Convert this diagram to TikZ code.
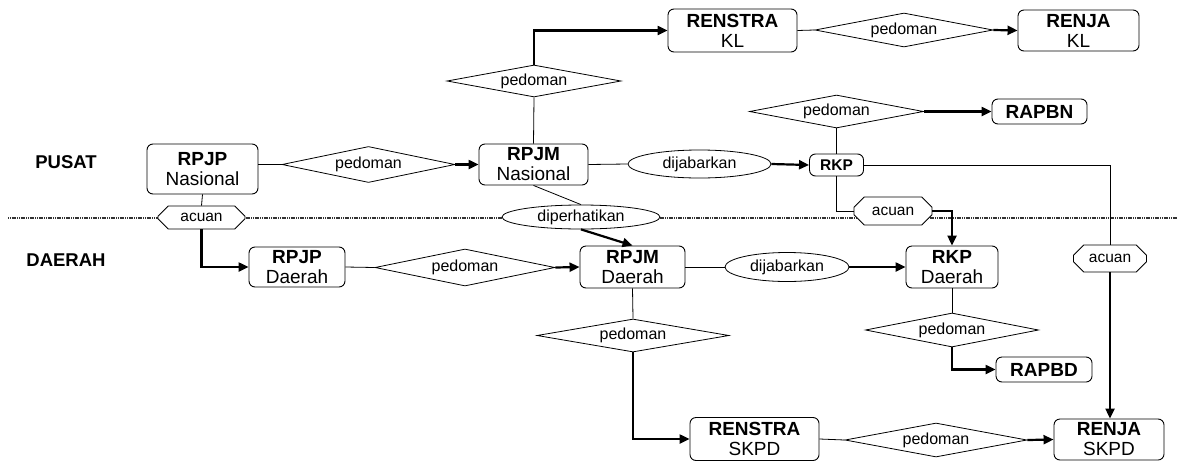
\documentclass[tikz,border=0pt]{standalone}
\usepackage{fontspec}
\setmainfont{Liberation Sans}
\usetikzlibrary{shapes.geometric,shapes.misc,arrows.meta}
\begin{document}
\begin{tikzpicture}[x=1pt,y=-1pt,
 box/.style={draw,rounded corners=6pt,line width=0.9pt,align=center,inner sep=0pt,font=\fontsize{19}{20}\selectfont,fill=white},
 dia/.style={draw,diamond,shape aspect=4,inner sep=0pt,line width=0.8pt,font=\fontsize{16}{18}\selectfont,fill=white},
 ell/.style={draw,ellipse,inner sep=0pt,line width=0.8pt,font=\fontsize{16}{18}\selectfont,fill=white},
 oct/.style={draw,chamfered rectangle,chamfered rectangle xsep=8pt,chamfered rectangle ysep=6pt,inner sep=0pt,line width=0.8pt,font=\fontsize{15.5}{17}\selectfont,fill=white},
 thinln/.style={line width=0.8pt},
 thickarr/.style={line width=2.2pt,-{Triangle[length=10pt,width=9pt]}},
 region/.style={font=\bfseries\fontsize{18.5}{20}\selectfont},
 divider/.style={line width=1.8pt,dash pattern=on 1.2pt off 0.6pt,black!80}
]
\useasboundingbox (0,0) rectangle (1177,461);

% divider
\coordinate (divL) at (8,218);
\coordinate (divR) at (1177,218);
\draw[divider] (divL) -- (divR);

% region labels
\node[region] (pusat) at (66,162) {PUSAT};
\node[region] (daerah) at (66,260) {DAERAH};

% boxes
\node[box,minimum width=111pt,minimum height=50pt] (rpjpn) at (202.5,169) {\textbf{RPJP}\\Nasional};
\node[box,minimum width=109pt,minimum height=41pt] (rpjmn) at (533.5,164.5) {\textbf{RPJM}\\Nasional};
\node[box,minimum width=129pt,minimum height=43pt] (renstrakl) at (732.5,30.5) {\textbf{RENSTRA}\\KL};
\node[box,minimum width=121pt,minimum height=41pt] (renjakl) at (1078.5,30.5) {\textbf{RENJA}\\KL};
\node[box,minimum width=54pt,minimum height=22pt,font=\bfseries\fontsize{15.5}{17}\selectfont] (rkp) at (836.5,165) {RKP};
\node[box,minimum width=95pt,minimum height=25pt,font=\bfseries\fontsize{19}{20}\selectfont] (rapbn) at (1039.5,111.5) {RAPBN};
\node[box,minimum width=96pt,minimum height=40pt] (rpjpd) at (297,267) {\textbf{RPJP}\\Daerah};
\node[box,minimum width=105pt,minimum height=42pt] (rpjmd) at (632.5,267) {\textbf{RPJM}\\Daerah};
\node[box,minimum width=92pt,minimum height=42pt] (rkpd) at (952,267) {\textbf{RKP}\\Daerah};
\node[box,minimum width=96pt,minimum height=25pt,font=\bfseries\fontsize{19}{20}\selectfont] (rapbd) at (1044,369.5) {RAPBD};
\node[box,minimum width=129pt,minimum height=43pt] (renstraskpd) at (754.5,439) {\textbf{RENSTRA}\\SKPD};
\node[box,minimum width=110pt,minimum height=41pt] (renjaskpd) at (1109,439.5) {\textbf{RENJA}\\SKPD};

% diamonds
\node[dia,minimum width=173pt,minimum height=36pt] (d1) at (368.5,164.5) {pedoman};
\node[dia,minimum width=174pt,minimum height=32pt] (d2) at (534,81) {pedoman};
\node[dia,minimum width=178pt,minimum height=34pt] (d3) at (904,30) {pedoman};
\node[dia,minimum width=174pt,minimum height=33pt] (d4) at (836.5,111.5) {pedoman};
\node[dia,minimum width=180pt,minimum height=37pt] (d5) at (465,267.5) {pedoman};
\node[dia,minimum width=192pt,minimum height=33pt] (d6) at (633,335.5) {pedoman};
\node[dia,minimum width=173pt,minimum height=34pt] (d7) at (952,330) {pedoman};
\node[dia,minimum width=182pt,minimum height=34pt] (d8) at (936,440) {pedoman};

% ellipses
\node[ell,minimum width=143pt,minimum height=28pt] (dij1) at (699.5,164) {dijabarkan};
\node[ell,minimum width=124pt,minimum height=29pt] (dij2) at (787,267) {dijabarkan};
\node[ell,minimum width=158pt,minimum height=24pt] (dip) at (581,217) {diperhatikan};

% octagons
\node[oct,minimum width=87pt,minimum height=23pt] (acuan1) at (201.5,217.5) {acuan};
\node[oct,minimum width=78pt,minimum height=28pt] (acuan2) at (893,211) {acuan};
\node[oct,minimum width=73pt,minimum height=27pt] (acuan3) at (1110,258.5) {acuan};

% connectors
\draw[thinln] (rpjpn.east |- d1.west) -- (d1.west);
\draw[thickarr] (d1.east) -- (rpjmn.west);
\draw[thinln] (rpjpn.south) -- (acuan1.north);
\draw[thickarr] (acuan1.south) |- (rpjpd.west);
\draw[thinln] (rpjmn.north) -- (d2.south);
\draw[thickarr] (d2.north) |- (renstrakl.west);
\draw[thinln] (renstrakl.east) -- (d3.west);
\draw[thickarr] (d3.east) -- (renjakl.west);
\draw[thinln] (rpjmn.east) -- (dij1.west);
\draw[thickarr] (dij1.east) -- (rkp.west);
\draw[thinln] (rkp.north) -- (d4.south);
\draw[thickarr] (d4.east) -- (rapbn.west);
\draw[thinln] (rkp.south) |- (acuan2.west);
\draw[thickarr] (acuan2.east) -| (rkpd.north);
\draw[thinln] (rkp.east) -| (acuan3.north);
\draw[thickarr] (acuan3.south) -- (acuan3.south |- renjaskpd.north);
\draw[thinln] (rpjmn.south) -- (dip.north);
\draw[thickarr] (dip.south) -- (rpjmd.north);
\draw[thinln] (rpjpd.east) -- (d5.west);
\draw[thickarr] (d5.east) -- (rpjmd.west);
\draw[thinln] (rpjmd.east) -- (dij2.west);
\draw[thickarr] (dij2.east) -- (rkpd.west);
\draw[thinln] (rpjmd.south) -- (d6.north);
\draw[thickarr] (d6.south) |- (renstraskpd.west);
\draw[thinln] (rkpd.south) -- (d7.north);
\draw[thickarr] (d7.south) |- (rapbd.west);
\draw[thinln] (renstraskpd.east) -- (d8.west);
\draw[thickarr] (d8.east) -- (renjaskpd.west);
\end{tikzpicture}
\end{document}
